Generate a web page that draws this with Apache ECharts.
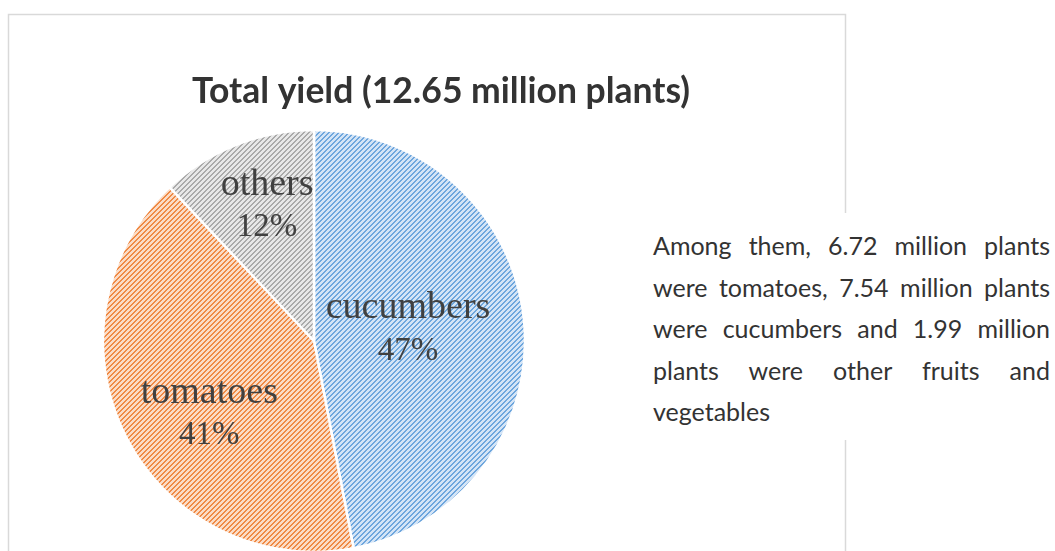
<!DOCTYPE html>
<html>
<head>
<meta charset="utf-8">
<script src="https://cdn.jsdelivr.net/npm/echarts@6/dist/echarts.min.js"></script>
<style>
    html, body { margin: 0; padding: 0; background: #fff; }
    #wrap { position: relative; width: 1055px; height: 551px; overflow: hidden; }
    #chart { width: 1055px; height: 551px; }
    #note {
        position: absolute; left: 630px; top: 213px; width: 397px; height: 215px;
        padding: 12px 6px 0 23px; background: #fff;
        font-family: Lato, sans-serif; font-size: 25px; line-height: 41.6px;
        color: #333;
    }
    #note div { white-space: nowrap; text-align: justify; text-align-last: justify; }
    #note div.last { text-align-last: left; }
</style>
</head>
<body>
<div id="wrap">
    <div id="chart"></div>
    <div id="note"></div>
</div>
<script>
// shares shown on the slices (%)
const categories = ['cucumbers', 'tomatoes', 'others']
const shares = [47, 41, 12]
const titleText = 'Total yield (12.65 million plants)'
const noteLines = [
    'Among them, 6.72 million plants',
    'were tomatoes, 7.54 million plants',
    'were cucumbers and 1.99 million',
    'plants were other fruits and',
    'vegetables'
]

const note = document.getElementById('note')
noteLines.forEach((t, i) => {
    const d = document.createElement('div')
    d.textContent = t
    if (i === noteLines.length - 1) d.className = 'last'
    note.appendChild(d)
})

// hatched fill, "/" stripes
function hatch(stripe, bg) {
    const p = 5
    const c = document.createElement('canvas')
    c.width = p
    c.height = p
    const ctx = c.getContext('2d')
    ctx.fillStyle = bg
    ctx.fillRect(0, 0, p, p)
    ctx.fillStyle = stripe
    for (let x = 0; x < p; x++) {
        for (let y = 0; y < p; y++) {
            if ((x + y) % p < 2) ctx.fillRect(x, y, 1, 1)
        }
    }
    return { image: c, repeat: 'repeat' }
}

const fills = {
    cucumbers: hatch('#6ea6dd', '#d3e4f6'),
    tomatoes: hatch('#ef8a45', '#fbdcc6'),
    others: hatch('#aaaaaa', '#e8e8e8')
}
const labelShift = {
    cucumbers: [-14, -1],
    tomatoes: [-8, 24],
    others: [-7, -34]
}

const chart = echarts.init(document.getElementById('chart'))
chart.setOption({
    animation: false,
    title: {
        text: titleText,
        left: 436,
        top: 69,
        textAlign: 'center',
        textStyle: {
            fontFamily: 'Lato',
            fontWeight: 'bold',
            fontSize: 35.5,
            color: '#333'
        }
    },
    graphic: [
        {
            type: 'rect',
            z: -10,
            shape: { x: 8.5, y: 14.5, width: 837, height: 560 },
            style: { fill: 'none', stroke: '#d9d9d9', lineWidth: 1.5 }
        }
    ],
    series: [
        {
            type: 'pie',
            center: [314, 341],
            radius: 211,
            startAngle: 90,
            clockwise: true,
            itemStyle: { borderColor: '#fff', borderWidth: 2.5 },
            label: {
                position: 'inside',
                formatter: '{n|{b}}\n{p|{d}%}',
                color: '#404040',
                rich: {
                    n: { fontFamily: 'Liberation Serif', fontSize: 38, lineHeight: 43, color: '#404040' },
                    p: { fontFamily: 'Liberation Serif', fontSize: 33, lineHeight: 43, color: '#404040' }
                }
            },
            labelLine: { show: false },
            emphasis: { disabled: true },
            data: categories.map((name, i) => ({
                name,
                value: shares[i],
                itemStyle: { color: fills[name] },
                label: { offset: labelShift[name] }
            }))
        }
    ]
})
</script>
</body>
</html>
